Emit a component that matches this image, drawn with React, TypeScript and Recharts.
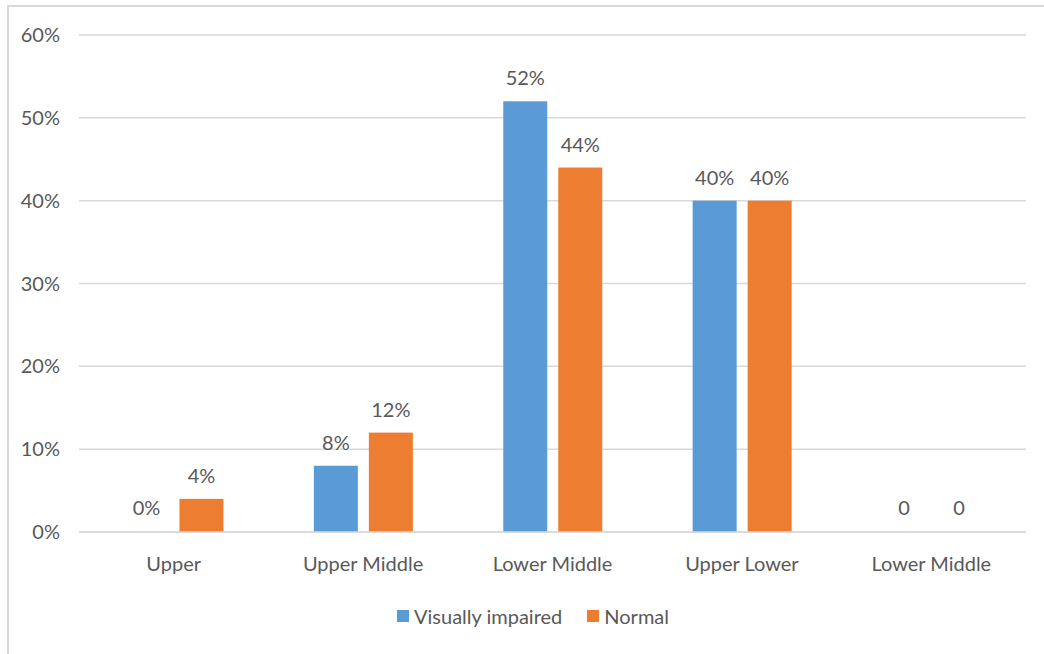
import React from 'react';
import { BarChart, Bar, XAxis, YAxis, CartesianGrid, Legend, LabelList } from 'recharts';

// Income class groups (two groups share the "Lower Middle" name, so keys are separate)
const categories = ['Upper', 'Upper Middle', 'Lower Middle', 'Upper Lower', 'Lower Middle'];
const visuallyImpaired = [0, 8, 52, 40, 0];
const normal = [4, 12, 44, 40, 0];
// How each group's value label is written: with a percent sign or as a bare number
const labelStyle = ['pct', 'pct', 'pct', 'pct', 'plain'];
const yTicks = [0, 10, 20, 30, 40, 50, 60];

const data = categories.map((name, i) => ({
  key: `c${i}`,
  name,
  vi: visuallyImpaired[i],
  normal: normal[i],
  fmt: labelStyle[i],
}));

const FONT = 'Lato, "Open Sans", sans-serif';
const TEXT = '#595959';
const BLUE = '#5b9bd5';
const ORANGE = '#ed7d31';
const FS = 20;

const renderLabel = (props: any) => {
  const { x, y, width, value, index } = props;
  const txt = data[index].fmt === 'pct' ? `${value}%` : `${value}`;
  return (
    <text
      x={x + width / 2}
      y={y - 16}
      textAnchor="middle"
      fill={TEXT}
      fontSize={FS}
      fontFamily={FONT}
    >
      {txt}
    </text>
  );
};

// Zero-valued bars keep a 1px slot (minPointSize) so their labels are placed,
// but nothing is painted for them.
const makeShape = (key: string) => (props: any) => {
  const { x, y, width, height, fill, payload } = props;
  if (!payload || payload[key] <= 0) return <g />;
  return <rect x={x} y={y} width={width} height={height} fill={fill} />;
};

const LegendContent = () => (
  <div
    style={{
      display: 'flex',
      justifyContent: 'center',
      alignItems: 'center',
      fontFamily: FONT,
      fontSize: FS,
      color: TEXT,
      height: 30,
      paddingLeft: 40,
    }}
  >
    <span style={{ display: 'inline-block', width: 12, height: 12, background: BLUE, marginRight: 5 }} />
    <span style={{ marginRight: 25 }}>Visually impaired</span>
    <span style={{ display: 'inline-block', width: 12, height: 12, background: ORANGE, marginRight: 5 }} />
    <span>Normal</span>
  </div>
);

export default function App() {
  return (
    <div style={{ position: 'absolute', left: 0, top: 0, width: 1044, height: 654, background: '#fff' }}>
      <div
        style={{
          position: 'absolute',
          left: 7,
          top: 5,
          width: 1044,
          height: 660,
          borderTop: '2px solid #d9d9d9',
          borderLeft: '2px solid #d9d9d9',
        }}
      />
      <div style={{ position: 'absolute', left: 0, top: 0 }}>
        <BarChart
          width={1044}
          height={654}
          data={data}
          margin={{ top: 35, right: 18, left: 0, bottom: 32 }}
          barCategoryGap="24%"
          barGap={11}
        >
          <CartesianGrid vertical={false} stroke="#d9d9d9" strokeWidth={1.5} />
          <XAxis
            dataKey="key"
            tickFormatter={(_v: any, i: number) => categories[i]}
            height={60}
            tickLine={false}
            tickSize={0}
            tickMargin={25}
            axisLine={{ stroke: '#d9d9d9', strokeWidth: 1.5 }}
            tick={{ fill: TEXT, fontSize: FS, fontFamily: FONT }}
          />
          <YAxis
            width={79}
            domain={[0, 60]}
            ticks={yTicks}
            tickFormatter={(v: number) => `${v}%`}
            axisLine={false}
            tickLine={false}
            tickSize={0}
            tickMargin={19}
            tick={{ fill: TEXT, fontSize: FS, fontFamily: FONT }}
          />
          <Legend
            verticalAlign="bottom"
            height={30}
            wrapperStyle={{ bottom: 23 }}
            content={<LegendContent />}
          />
          <Bar
            dataKey="vi"
            name="Visually impaired"
            fill={BLUE}
            minPointSize={1}
            shape={makeShape('vi')}
            isAnimationActive={false}
          >
            <LabelList dataKey="vi" content={renderLabel} />
          </Bar>
          <Bar
            dataKey="normal"
            name="Normal"
            fill={ORANGE}
            minPointSize={1}
            shape={makeShape('normal')}
            isAnimationActive={false}
          >
            <LabelList dataKey="normal" content={renderLabel} />
          </Bar>
        </BarChart>
      </div>
    </div>
  );
}
